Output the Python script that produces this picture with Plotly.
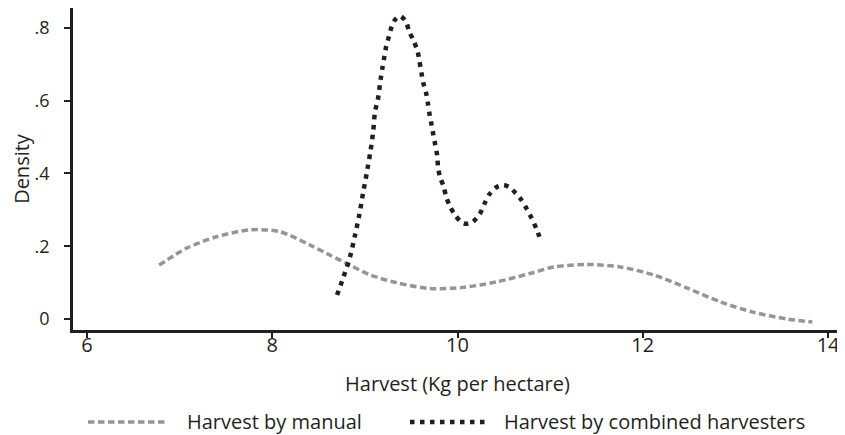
import plotly.graph_objects as go

# ---- data ----
manual_x = [6.78, 7.08, 7.40, 7.76, 8.08, 8.41, 8.62, 8.84, 9.06, 9.34, 9.70, 10.06,
            10.42, 10.78, 11.04, 11.40, 11.76, 12.12, 12.48, 12.84, 13.19, 13.56, 13.83]
manual_y = [0.148, 0.195, 0.226, 0.245, 0.240, 0.203, 0.176, 0.148, 0.121, 0.100, 0.084, 0.087,
            0.102, 0.125, 0.143, 0.150, 0.143, 0.121, 0.085, 0.047, 0.019, 0.000, -0.008]

combined_x = [8.70, 8.77, 8.84, 8.89, 8.94, 8.98, 9.02, 9.06, 9.09, 9.11, 9.14, 9.17, 9.19,
              9.21, 9.23, 9.26, 9.29, 9.33, 9.38, 9.44, 9.48, 9.53, 9.57, 9.59, 9.61, 9.63,
              9.66, 9.68, 9.70, 9.72, 9.74, 9.76, 9.78, 9.79, 9.81, 9.85, 9.88, 9.92, 9.98,
              10.06, 10.12, 10.17, 10.24, 10.29, 10.34, 10.42, 10.50, 10.57, 10.63, 10.69,
              10.75, 10.80, 10.85, 10.89]
combined_y = [0.066, 0.116, 0.171, 0.226, 0.286, 0.345, 0.400, 0.460, 0.515, 0.570, 0.602, 0.658, 0.690,
              0.720, 0.748, 0.776, 0.803, 0.823, 0.832, 0.818, 0.789, 0.762, 0.734, 0.707, 0.677, 0.649,
              0.622, 0.593, 0.560, 0.533, 0.505, 0.478, 0.450, 0.418, 0.391, 0.364, 0.334, 0.309, 0.283,
              0.263, 0.262, 0.268, 0.288, 0.316, 0.341, 0.362, 0.368, 0.360, 0.345, 0.327,
              0.301, 0.277, 0.249, 0.222]

x_ticks = [6, 8, 10, 12, 14]
y_ticks = [0, 0.2, 0.4, 0.6, 0.8]
y_tick_labels = ["0", ".2", ".4", ".6", ".8"]

series_names = ["Harvest by manual", "Harvest by combined harvesters"]

# ---- style ----
INK = "#231f20"
GRAY = "#939598"
FONT = "Open Sans"
GRAY_DASH = "6.5px,3.5px"
DARK_DASH = "4.5px,5.5px"

# the page body has an 8px margin, so the figure is drawn 8px in and 8px down
BODY = 8
W, H = 845 - BODY, 435 - BODY
L, R, T, B = 73 - BODY, 3, 8 - BODY, 105

fig = go.Figure()
fig.add_trace(go.Scatter(x=manual_x, y=manual_y, mode="lines", name=series_names[0],
                         line=dict(color=GRAY, width=3.5, dash=GRAY_DASH, shape="spline", smoothing=0.8),
                         showlegend=False))
fig.add_trace(go.Scatter(x=combined_x, y=combined_y, mode="lines", name=series_names[1],
                         line=dict(color=INK, width=4.5, dash=DARK_DASH, shape="spline", smoothing=0.8),
                         showlegend=False))

plot_w = W - L - R
plot_h = H - T - B


def page_to_paper_x(px):
    return (px - BODY - L) / plot_w


def page_to_paper_y(py):
    return (H - B - (py - BODY)) / plot_h


# custom legend (long samples as in reference)
legend_y = page_to_paper_y(422)
legend_items = [
    (88, 167, 185, GRAY, 3.5, GRAY_DASH, series_names[0]),
    (410, 490, 502, INK, 4.5, DARK_DASH, series_names[1]),
]
shapes = []
annotations = []
for x0, x1, xt, col, wd, dsh, label in legend_items:
    shapes.append(dict(type="line", xref="paper", yref="paper",
                       x0=page_to_paper_x(x0), x1=page_to_paper_x(x1), y0=legend_y, y1=legend_y,
                       line=dict(color=col, width=wd, dash=dsh)))
    annotations.append(dict(xref="paper", yref="paper", x=page_to_paper_x(xt), y=legend_y,
                            xanchor="left", yanchor="middle", showarrow=False, text=label,
                            font=dict(family=FONT, size=20, color=INK)))

fig.update_layout(
    width=W, height=H,
    margin=dict(l=L, r=R, t=T, b=B, pad=0),
    paper_bgcolor="white", plot_bgcolor="white",
    font=dict(family=FONT, color=INK),
    shapes=shapes, annotations=annotations,
    showlegend=False,
)
fig.update_xaxes(
    range=[5.85, 14.15], tickvals=x_ticks, ticktext=[str(v) for v in x_ticks],
    showline=True, linecolor=INK, linewidth=2.5, showgrid=False, zeroline=False,
    ticks="outside", ticklen=5, tickwidth=2, tickcolor=INK,
    tickfont=dict(family=FONT, size=20, color=INK), ticklabelstandoff=-10,
    title=dict(text="Harvest (Kg per hectare)", font=dict(family=FONT, size=20, color=INK), standoff=21),
)
fig.update_yaxes(
    range=[-0.030, 0.854], tickvals=y_ticks, ticktext=y_tick_labels,
    showline=True, linecolor=INK, linewidth=2.5, showgrid=False, zeroline=False,
    ticks="outside", ticklen=6, tickwidth=2, tickcolor=INK,
    tickfont=dict(family=FONT, size=18, color=INK), ticklabelstandoff=11,
    title=dict(text="Density", font=dict(family=FONT, size=20, color=INK), standoff=14),
)

fig.write_html("out.html")
